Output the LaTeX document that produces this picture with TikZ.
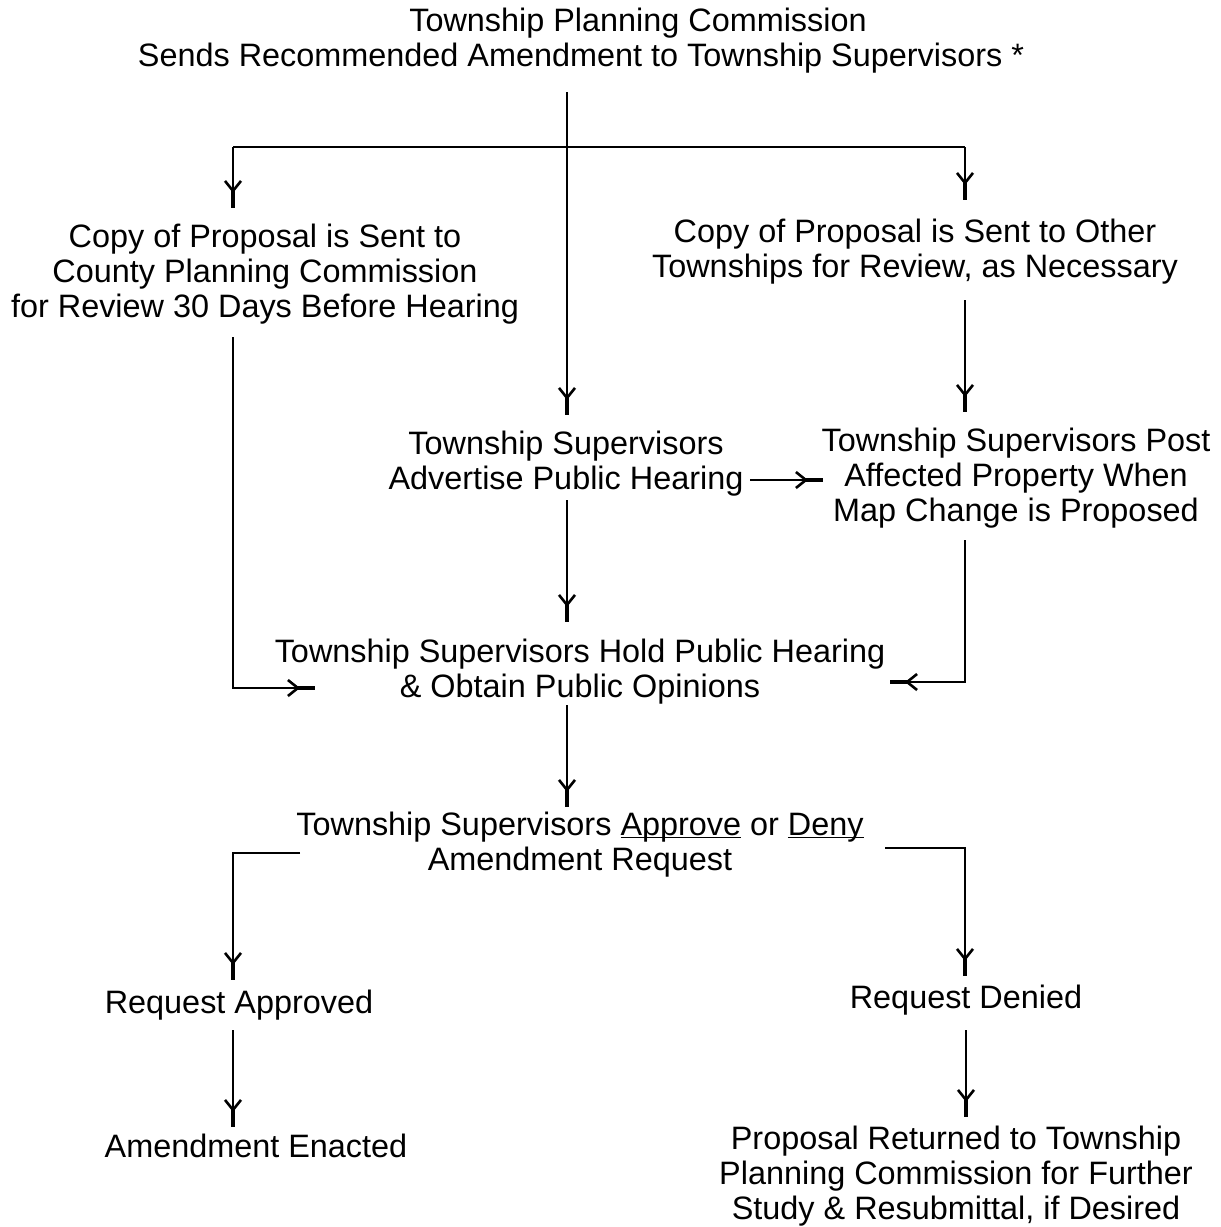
\documentclass[tikz,border=0pt]{standalone}
\usepackage{fontspec}
\setmainfont{Liberation Sans}
\usetikzlibrary{arrows.meta}
\newcommand\myul[1]{\setbox0\hbox{#1}\rlap{\rule[-1.2pt]{\wd0}{0.6pt}}#1}
\begin{document}
\begin{tikzpicture}[x=0.5pt,y=-0.5pt,
  lbl/.style={align=center, inner sep=0pt, font=\fontsize{16.2}{17.5}\selectfont},
  conn/.style={line width=0.9pt},
  arr/.style={conn, -{Straight Barb[length=5pt,width=8pt,line width=1.3pt,sep=-1.5pt] Rectangle[length=9pt,width=2.2pt,sep=0pt]}}]
\useasboundingbox (0,0) rectangle (1221,1227);
% nodes
\node[lbl] (top) at (581,41) {\hspace*{57pt}Township Planning Commission\\Sends Recommended Amendment to Township Supervisors *};
\node[lbl] (county) at (265,274) {Copy of Proposal is Sent to\\County Planning Commission\\for Review 30 Days Before Hearing};
\node[lbl] (other) at (915,252) {Copy of Proposal is Sent to Other\\Townships for Review, as Necessary};
\node[lbl] (adv) at (566,464) {Township Supervisors\\Advertise Public Hearing};
\node[lbl] (post) at (1016,478) {Township Supervisors Post\\Affected Property When\\Map Change is Proposed};
\node[lbl] (hold) at (580,672) {Township Supervisors Hold Public Hearing\\\& Obtain Public Opinions};
\node[lbl] (decide) at (580,845) {Township Supervisors \myul{Approve} or \myul{Deny}\\Amendment Request};
\node[lbl] (appr) at (239,1005) {Request Approved};
\node[lbl] (deny) at (966,1000) {Request Denied};
\node[lbl] (enact) at (256,1146) {Amendment Enacted};
\node[lbl] (ret) at (956,1176) {Proposal Returned to Township\\Planning Commission for Further\\Study \& Resubmittal, if Desired};
% connector points
\coordinate (topS) at (567,92);
\coordinate (advN) at (567,415);
\coordinate (brL) at (233,147);
\coordinate (brR) at (965,147);
\coordinate (countyN) at (233,208);
\coordinate (otherN) at (965,200);
\coordinate (otherS) at (965,300);
\coordinate (postN) at (965,412);
\coordinate (advE) at (750,480);
\coordinate (postW) at (823,480);
\coordinate (advS) at (567,500);
\coordinate (holdN) at (567,622);
\coordinate (countyS) at (233,337);
\coordinate (holdW) at (315,688);
\coordinate (postS) at (965,540);
\coordinate (holdE) at (890,682);
\coordinate (holdS) at (567,705);
\coordinate (decideN) at (567,807);
\coordinate (decideW) at (300,853);
\coordinate (apprN) at (233,980);
\coordinate (decideE) at (885,848);
\coordinate (denyN) at (965,976);
\coordinate (apprS) at (233,1030);
\coordinate (enactN) at (233,1127);
\coordinate (denyS) at (966,1030);
\coordinate (retN) at (966,1117);
% connectors
\draw[arr] (topS) -- (advN);
\draw[conn] (brL) -- (brR);
\draw[arr] (brL) -- (countyN);
\draw[arr] (brR) -- (otherN);
\draw[arr] (otherS) -- (postN);
\draw[arr] (advE) -- (postW);
\draw[arr] (advS) -- (holdN);
\draw[arr] (countyS) |- (holdW);
\draw[arr] (postS) |- (holdE);
\draw[arr] (holdS) -- (decideN);
\draw[arr] (decideW) -| (apprN);
\draw[arr] (decideE) -| (denyN);
\draw[arr] (apprS) -- (enactN);
\draw[arr] (denyS) -- (retN);
\end{tikzpicture}
\end{document}
